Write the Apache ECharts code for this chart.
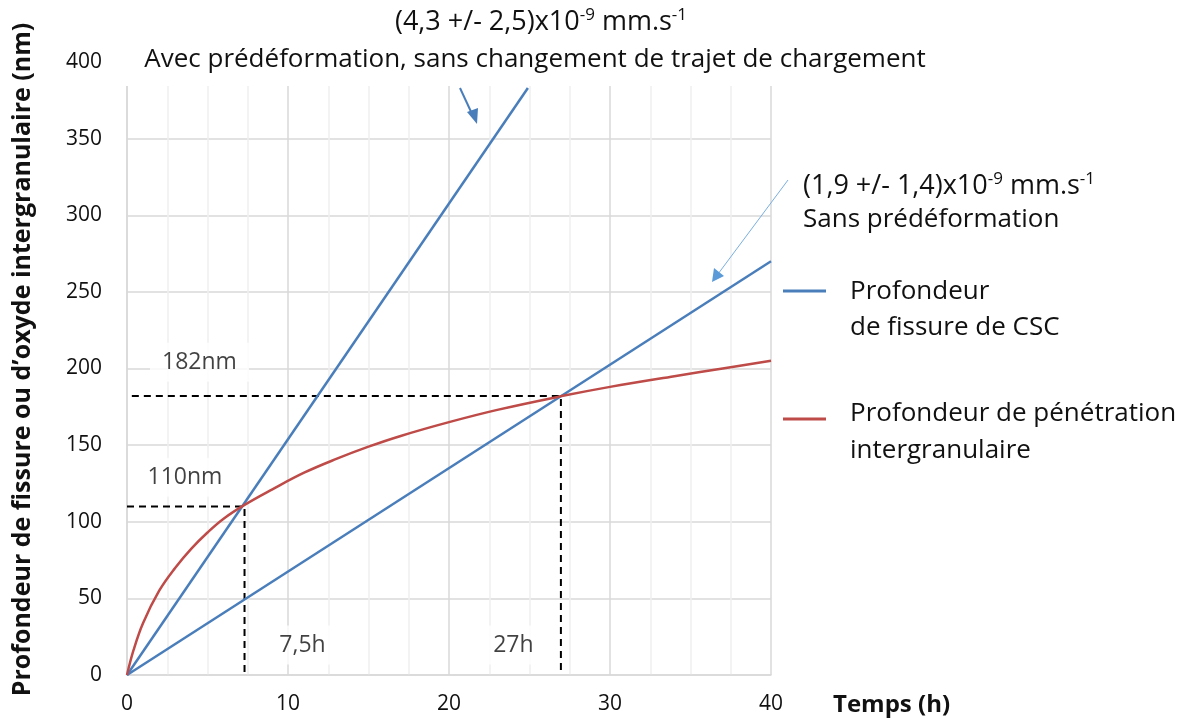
<!DOCTYPE html>
<html>
<head>
<meta charset="utf-8">
<script src="https://cdn.jsdelivr.net/npm/echarts@6/dist/echarts.min.js"></script>
<style>
html,body{margin:0;padding:0;background:#fff;}
#chart{width:1181px;height:722px;}
</style>
</head>
<body>
<div id="chart"></div>
<script>
// ---- data ----
var xTicks = [0, 10, 20, 30, 40];
var yTicks = [0, 50, 100, 150, 200, 250, 300, 350, 400];
var seriesNames = ['Profondeur de fissure de CSC', 'Profondeur de pénétration intergranulaire'];
// steep blue line (with pre-deformation)
var cscWithPredef = [[0, 0], [24.9, 383]];
// shallow blue line (without pre-deformation)
var cscWithoutPredef = [[0, 0], [40, 270]];
// red curve: intergranular penetration depth
var intergranular = [
  [0, 0], [0.4, 16], [1, 34], [2, 55], [3, 70], [4, 82.5], [5, 93],
  [6, 102], [7.3, 111], [9, 121], [11, 132], [13, 141], [15, 149],
  [17, 156], [20, 165], [23, 173], [27, 182], [30, 188], [34, 195], [37, 200], [40, 205]
];
// guide lines (intersections)
var guide110 = [[0, 110], [7.3, 110], [7.3, 0]];
var guide182 = [[0.3, 182], [26.95, 182], [26.95, 0]];
var guideLabels = ['182nm', '110nm', '7,5h', '27h'];
var guideLabelPos = [[4.5, 204], [3.6, 129], [10.9, 19.5], [24.0, 19.5]];

var blue = '#4A7EBB';
var red = '#BE4B48';
var FONT = 'Open Sans';
var TXT = '#111';

var chart = echarts.init(document.getElementById('chart'), null, {renderer: 'canvas'});

var labelData = guideLabels.map(function (t, i) {
  return {value: guideLabelPos[i], name: t};
});

var supRich = {
  a: {fontFamily: FONT, fontSize: 27, fill: TXT},
  s: {fontFamily: FONT, fontSize: 17, fill: TXT, verticalAlign: 'top', padding: [0, 0, 13, 0]}
};

var option = {
  animation: false,
  backgroundColor: '#fff',
  grid: {left: 127, right: 410, top: 62, bottom: 47, containLabel: false},
  xAxis: {
    type: 'value', min: 0, max: 40, interval: 10,
    axisLine: {show: true, lineStyle: {color: '#d9d9d9', width: 1.5}},
    axisTick: {show: false},
    axisLabel: {fontFamily: FONT, fontSize: 21, color: TXT, margin: 19},
    splitLine: {show: true, lineStyle: {color: '#d9d9d9', width: 1.5}},
    minorTick: {show: false, splitNumber: 4},
    minorSplitLine: {show: true, lineStyle: {color: '#efefef', width: 1.5}},
    name: 'Temps (h)', nameLocation: 'end', nameGap: 62,
    nameTextStyle: {fontFamily: FONT, fontSize: 24, fontWeight: 'bold', color: TXT,
      align: 'left', verticalAlign: 'top', padding: [18, 0, 0, 0]}
  },
  yAxis: {
    type: 'value', min: 0, max: 400, interval: 50,
    axisLine: {show: true, lineStyle: {color: '#d9d9d9', width: 1.5}},
    axisTick: {show: false},
    axisLabel: {fontFamily: FONT, fontSize: 21, color: TXT, margin: 25},
    splitLine: {show: true, lineStyle: {color: '#d9d9d9', width: 1.5}},
    name: "Profondeur de fissure ou d’oxyde intergranulaire (nm)",
    nameLocation: 'middle', nameRotate: 90, nameGap: 92,
    nameTextStyle: {fontFamily: FONT, fontSize: 25, fontWeight: 'bold', color: TXT, padding: [0, 0, 0, 18]}
  },
  series: [
    {name: seriesNames[0], type: 'line', data: cscWithPredef, showSymbol: false,
      lineStyle: {color: blue, width: 2.5}, z: 3},
    {name: seriesNames[0] + ' ', type: 'line', data: cscWithoutPredef, showSymbol: false,
      lineStyle: {color: blue, width: 2.5}, z: 3},
    {name: seriesNames[1], type: 'line', data: intergranular, showSymbol: false,
      smooth: 0.4,
      lineStyle: {color: red, width: 2.5}, z: 4},
    {name: 'g110', type: 'line', data: guide110, showSymbol: false,
      lineStyle: {color: '#000', width: 2, type: [7, 5]}, z: 2},
    {name: 'g182', type: 'line', data: guide182, showSymbol: false,
      lineStyle: {color: '#000', width: 2, type: [7, 5]}, z: 2},
    {name: 'labels', type: 'scatter', data: labelData, symbolSize: 0, z: 1,
      label: {show: true, position: 'inside', formatter: '{b}', fontFamily: FONT, fontSize: 23,
        color: TXT, backgroundColor: '#fff', padding: [8, 12, 8, 12]}}
  ],
  graphic: [
    // cover grid above the plotted region (reference plot area ends at ~383)
    {type: 'rect', shape: {x: 120, y: 50, width: 660, height: 36}, style: {fill: '#fff'}, z: 100, silent: true},
    // top annotation
    {type: 'text', x: 541, y: 22, z: 110, style: {
      text: '{a|(4,3 +/- 2,5)x10}{s|-9}{a| mm.s}{s|-1}', align: 'center', verticalAlign: 'middle',
      rich: supRich}},
    {type: 'text', x: 535, y: 60, z: 110, style: {
      text: 'Avec prédéformation, sans changement de trajet de chargement', align: 'center', verticalAlign: 'middle',
      fontFamily: FONT, fontSize: 26, fill: TXT}},
    // arrow 1
    {type: 'line', z: 110, shape: {x1: 460, y1: 88, x2: 473, y2: 116}, style: {stroke: blue, lineWidth: 2}},
    {type: 'polygon', z: 110, shape: {points: [[477, 124], [467, 112], [478, 108]]}, style: {fill: blue}},
    // right annotation
    {type: 'text', x: 803, y: 186, z: 110, style: {
      text: '{a|(1,9 +/- 1,4)x10}{s|-9}{a| mm.s}{s|-1}', align: 'left', verticalAlign: 'middle',
      rich: supRich}},
    {type: 'text', x: 803, y: 220, z: 110, style: {
      text: 'Sans prédéformation', align: 'left', verticalAlign: 'middle', fontFamily: FONT, fontSize: 26, fill: TXT}},
    // arrow 2 (thin)
    {type: 'line', z: 110, shape: {x1: 788, y1: 180, x2: 718, y2: 274}, style: {stroke: '#7AAFE0', lineWidth: 1}},
    {type: 'polygon', z: 110, shape: {points: [[712, 282], [714, 268], [724, 276]]}, style: {fill: '#5A9AD8'}},
    // legend
    {type: 'line', z: 110, shape: {x1: 783, y1: 291, x2: 826, y2: 291}, style: {stroke: blue, lineWidth: 3}},
    {type: 'text', x: 850, y: 274, z: 110, style: {text: 'Profondeur\nde fissure de CSC', lineHeight: 36,
      align: 'left', verticalAlign: 'top', fontFamily: FONT, fontSize: 26, fill: TXT}},
    {type: 'line', z: 110, shape: {x1: 783, y1: 419, x2: 826, y2: 419}, style: {stroke: red, lineWidth: 3}},
    {type: 'text', x: 850, y: 395, z: 110, style: {text: 'Profondeur de pénétration\nintergranulaire', lineHeight: 37,
      align: 'left', verticalAlign: 'top', fontFamily: FONT, fontSize: 26, fill: TXT}}
  ]
};
chart.setOption(option);
</script>
</body>
</html>
